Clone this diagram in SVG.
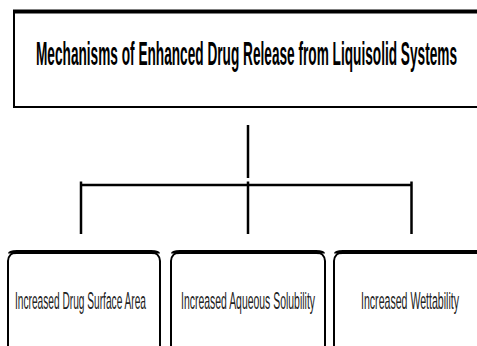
<svg xmlns="http://www.w3.org/2000/svg" width="477" height="346" viewBox="0 0 477 346">
<style>
.box{fill:#fff;stroke:#000;stroke-width:2}
.top{fill:none;stroke:#000;stroke-width:4}
.ln{stroke:#000;stroke-width:2.5;fill:none}
.title{font-family:"Liberation Sans",Arial,sans-serif;font-weight:bold;font-size:13.7px;fill:#000}
.lbl{font-family:"Liberation Sans",Arial,sans-serif;font-size:10.3px;fill:#222}
</style>
<rect width="477" height="346" fill="#fff"/>
<g id="title">
<rect class="box" x="14" y="11" width="480" height="96" stroke-width="2.5"/>
<line class="top" x1="13" y1="11.5" x2="477" y2="11.5" stroke-width="3"/>
<text class="title" transform="translate(36,65) scale(1,2.45)" x="0" y="0" textLength="421" lengthAdjust="spacingAndGlyphs">Mechanisms of Enhanced Drug Release from Liquisolid Systems</text>
</g>
<g id="connectors">
<line class="ln" x1="248" y1="125" x2="248" y2="178"/>
<line class="ln" x1="81" y1="185" x2="411.5" y2="185" stroke-width="4.5"/>
<line class="ln" x1="81" y1="181.5" x2="81" y2="234"/>
<line class="ln" x1="248" y1="181.5" x2="248" y2="234"/>
<line class="ln" x1="411.5" y1="181.5" x2="411.5" y2="234"/>
</g>
<g id="n1">
<rect class="box" x="8" y="252" width="152" height="110" rx="9"/>
<path class="top" d="M10 253.5 Q10 252 17 252 L151 252 Q158 252 158 253.5"/>
<text class="lbl" transform="translate(15,309) scale(1,2.4)" x="0" y="0" textLength="131" lengthAdjust="spacingAndGlyphs">Increased Drug Surface Area</text>
</g>
<g id="n2">
<rect class="box" x="171" y="252" width="154" height="110" rx="9"/>
<path class="top" d="M173 253.5 Q173 252 180 252 L316 252 Q323 252 323 253.5"/>
<text class="lbl" transform="translate(181,309) scale(1,2.4)" x="0" y="0" textLength="134" lengthAdjust="spacingAndGlyphs">Increased Aqueous Solubility</text>
</g>
<g id="n3">
<rect class="box" x="334" y="252" width="160" height="110" rx="9"/>
<path class="top" d="M336 253.5 Q336 252 343 252 L477 252"/>
<text class="lbl" transform="translate(361,309) scale(1,2.4)" x="0" y="0" textLength="98" lengthAdjust="spacingAndGlyphs">Increased Wettability</text>
</g>
</svg>
